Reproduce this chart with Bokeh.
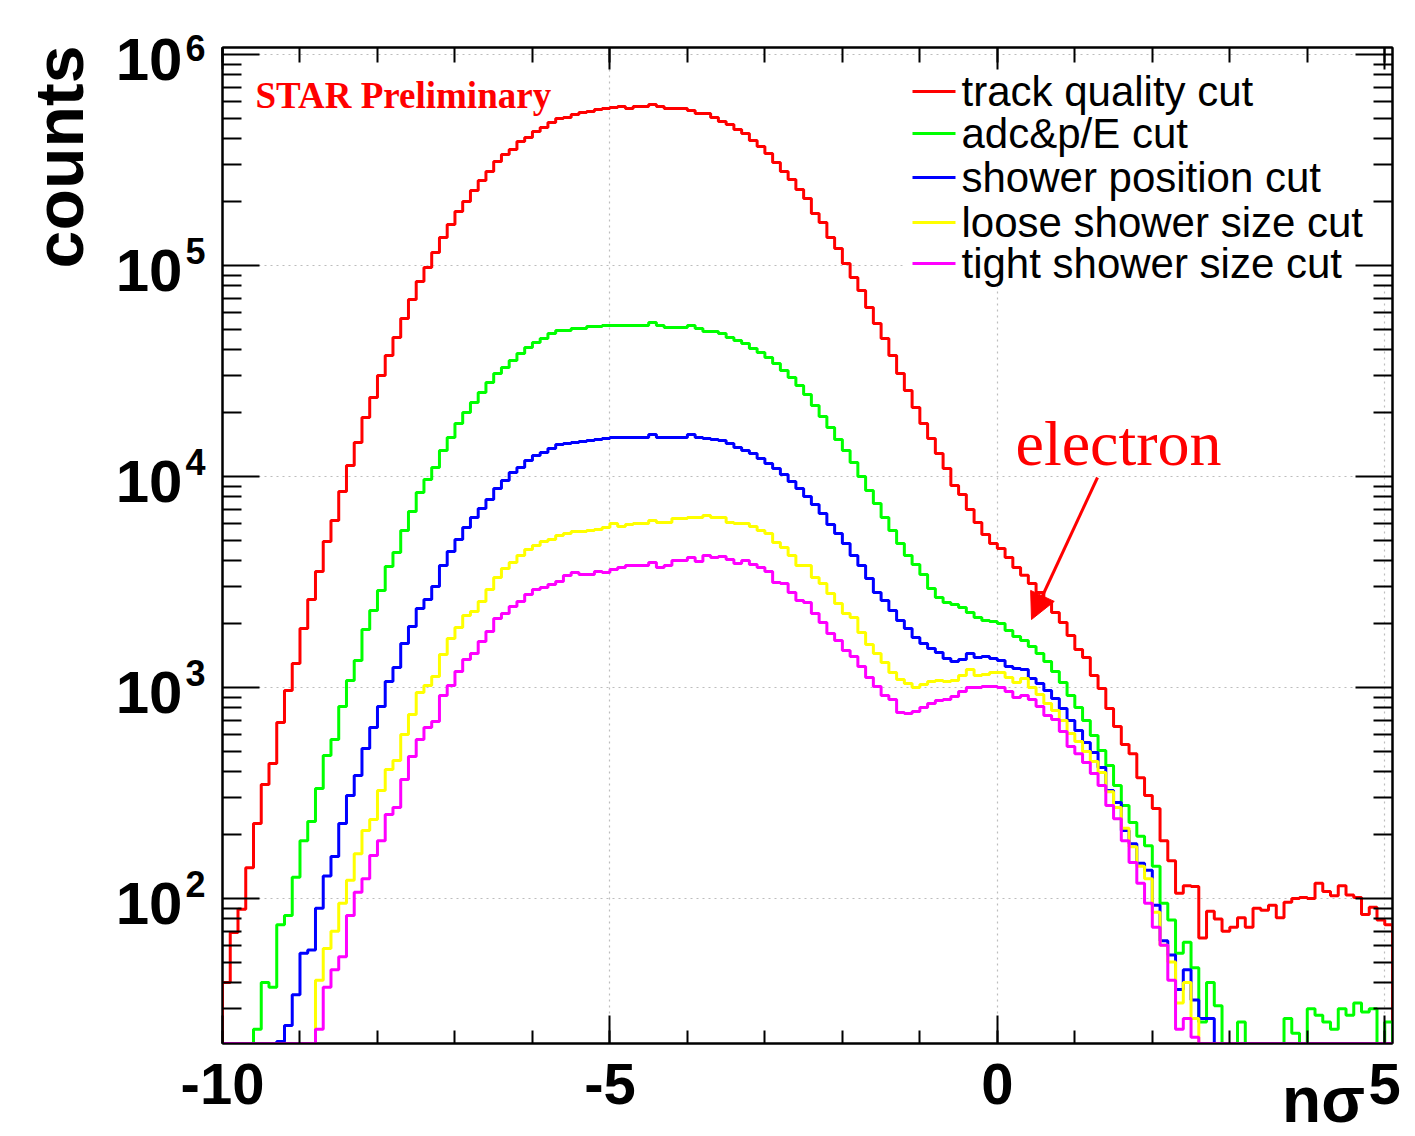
import numpy as np
from bokeh.plotting import figure
from bokeh.models import (FixedTicker, LinearAxis, LogAxis, Label, Arrow, Title,
                          NormalHead, Range1d, CustomJSTickFormatter)
from bokeh.embed import file_html
from bokeh.resources import INLINE

# ---------------- data (counts per 0.1-wide bin, from -10.0 to 5.1) ----------------
X_LO, X_HI = -10.0, 5.1
N_BINS = 151
edges = np.round(np.linspace(X_LO, X_HI, N_BINS + 1), 3)

track_quality = [
    40, 69, 89, 140, 227, 347, 436, 683, 968, 1300,
    1905, 2612, 3548, 4920, 6180, 8490, 11270, 14490, 19050, 23660,
    30130, 37420, 45600, 56100, 69000, 84000, 97900, 115300, 135800, 156400,
    180300, 201000, 226500, 252900, 278600, 311200, 335700, 354800, 387300, 404600,
    431500, 450800, 476400, 497700, 502300, 519700, 530900, 537000, 548300, 554500,
    560600, 567000, 554500, 567000, 567000, 579400, 567000, 554500, 554500, 554500,
    543000, 525000, 525000, 502300, 480900, 465600, 441500, 422600, 391000, 366400,
    339600, 307600, 278600, 255800, 229100, 207900, 176200, 159900, 135800, 120500,
    102100, 87700, 76200, 63200, 53100, 45100, 37420, 30760, 25570, 21240,
    17830, 15140, 12850, 10910, 9060, 8220, 6980, 6050, 5310, 4810,
    4560, 4130, 3700, 3400, 3110, 2820, 2530, 2270, 2030, 1763,
    1514, 1387, 1140, 989, 795, 653, 537, 486, 374, 308,
    267, 188, 151, 106, 115, 114, 65, 87, 80, 70,
    73, 81, 73, 90, 88, 93, 81, 96, 100, 101,
    100, 118, 108, 103, 115, 104, 101, 84, 91, 79,
    75]

adc_pe = [
    0, 0, 0, 0, 24, 40, 38, 75, 83, 126,
    188, 232, 332, 476, 567, 813, 1080, 1343, 1884, 2317,
    2882, 3745, 4363, 5546, 6823, 8395, 9680, 11040, 13280, 15300,
    17830, 20100, 22440, 25000, 27870, 30760, 32870, 35480, 38280, 40850,
    43150, 45080, 47640, 49200, 49200, 50270, 50270, 51400, 51400, 51970,
    51970, 51970, 51970, 51970, 51970, 53700, 51970, 50830, 50830, 50830,
    51970, 50270, 48640, 48640, 47640, 45600, 44150, 42660, 40450, 38720,
    36640, 34350, 31780, 29450, 26990, 24490, 21690, 19230, 17060, 14970,
    13280, 11650, 10000, 8590, 7450, 6390, 5546, 4810, 4227, 3828,
    3434, 2945, 2672, 2529, 2472, 2393, 2265, 2148, 2080, 2056,
    2010, 1862, 1746, 1671, 1564, 1449, 1328, 1191, 1056, 917,
    804, 698, 592, 503, 427, 343, 276, 229, 197, 178,
    142, 95, 79, 55, 62, 47, 26, 40, 31, 0,
    0, 26, 0, 0, 0, 0, 0, 27, 23, 0,
    30, 28, 26, 24, 30, 28, 32, 29, 30, 0,
    26]

shower_position = [
    0, 0, 0, 0, 0, 0, 0, 21, 25, 35,
    55, 57, 90, 128, 158, 227, 308, 383, 514, 646,
    813, 1067, 1244, 1617, 1945, 2368, 2612, 3012, 3786, 4413,
    5026, 5730, 6392, 7050, 7780, 8770, 9570, 10440, 11040, 11910,
    12590, 13000, 13580, 14190, 14330, 14490, 14650, 14810, 14960, 15130,
    15300, 15300, 15300, 15300, 15300, 15810, 15300, 15300, 15300, 15300,
    15810, 15300, 15130, 14960, 14810, 14330, 13720, 13280, 12850, 12170,
    11530, 10910, 10210, 9470, 8770, 8040, 7370, 6680, 5930, 5370,
    4810, 4227, 3786, 3286, 2820, 2583, 2317, 2080, 1905, 1726,
    1617, 1530, 1465, 1372, 1328, 1358, 1449, 1387, 1403, 1372,
    1343, 1259, 1230, 1217, 1104, 1045, 968, 887, 795, 698,
    625, 549, 492, 418, 325, 285, 210, 182, 147, 136,
    93, 63, 54, 37, 46, 33, 27, 27, 0, 0,
    0, 0, 0, 0, 0, 0, 0, 0, 0, 0,
    0, 0, 0, 0, 0, 0, 0, 0, 0, 0,
    0]

loose_shower_size = [
    0, 0, 0, 0, 0, 0, 0, 0, 0, 0,
    0, 0, 41, 58, 70, 95, 122, 163, 210, 237,
    325, 409, 451, 599, 745, 947, 1022, 1128, 1433, 1707,
    1924, 2194, 2291, 2557, 2912, 3321, 3664, 3910, 4227, 4508,
    4710, 4920, 5026, 5250, 5370, 5483, 5483, 5546, 5610, 5730,
    5985, 5796, 5925, 5985, 5985, 6185, 6053, 6053, 6322, 6322,
    6392, 6392, 6532, 6392, 6392, 6053, 5985, 5985, 5796, 5546,
    5370, 4865, 4610, 4227, 3786, 3786, 3321, 3112, 2787, 2500,
    2244, 2148, 1823, 1600, 1449, 1313, 1178, 1091, 1045, 1000,
    1033, 1067, 1080, 1067, 1080, 1140, 1217, 1140, 1153, 1178,
    1178, 1115, 1056, 1104, 1000, 927, 840, 778, 698, 605,
    555, 497, 446, 395, 321, 270, 215, 176, 142, 124,
    86, 60, 50, 32, 40, 27, 0, 0, 0, 0,
    0, 0, 0, 0, 0, 0, 0, 0, 0, 0,
    0, 0, 0, 0, 0, 0, 0, 0, 0, 0,
    0]

tight_shower_size = [
    0, 0, 0, 0, 0, 0, 0, 0, 0, 0,
    0, 0, 24, 38, 46, 53, 83, 107, 124, 160,
    188, 250, 270, 366, 471, 567, 646, 690, 917, 1022,
    1191, 1358, 1449, 1652, 1842, 2124, 2244, 2421, 2557, 2760,
    2912, 2978, 3076, 3177, 3396, 3508, 3434, 3434, 3548, 3508,
    3623, 3707, 3786, 3786, 3786, 3910, 3707, 3786, 3999, 3999,
    4130, 3955, 4227, 4130, 4180, 4043, 3873, 3999, 3828, 3707,
    3548, 3146, 3112, 2820, 2583, 2529, 2244, 2032, 1803, 1671,
    1497, 1403, 1259, 1115, 1011, 917, 877, 762, 754, 770,
    804, 840, 867, 877, 906, 957, 1000, 1000, 1011, 1011,
    1000, 957, 897, 917, 877, 813, 737, 705, 619, 525,
    486, 441, 391, 343, 276, 239, 188, 148, 118, 95,
    73, 60, 41, 24, 27, 22, 0, 0, 0, 0,
    0, 0, 0, 0, 0, 0, 0, 0, 0, 0,
    0, 0, 0, 0, 0, 0, 0, 0, 0, 0,
    0]

series_names = ["track quality cut", "adc&p/E cut", "shower position cut",
                "loose shower size cut", "tight shower size cut"]
series_counts = [track_quality, adc_pe, shower_position, loose_shower_size, tight_shower_size]
series_colors = ["#ff0000", "#00ff00", "#0000ff", "#ffff00", "#ff00ff"]

x_major = [-10, -5, 0, 5]
x_minor = list(range(-10, 6))
x_tick_labels = ["-10", "-5", "0", "5"]
y_major = [1e2, 1e3, 1e4, 1e5, 1e6]
y_exponents = ["2", "3", "4", "5", "6"]
y_minor = [m * 10.0 ** e for e in range(1, 7) for m in range(2, 10)]

# ---------------- layout ----------------
Y_LO, Y_HI = 20.55, 1.0795e6
FRAME_L, FRAME_T, FRAME_W, FRAME_H = 222, 47, 1170, 996
B_LEFT, B_TOP, B_RIGHT, B_BOTTOM = 222, 47, 20, 93
LLO, LHI = np.log10(Y_LO), np.log10(Y_HI)
DEC_PER_PX = (LHI - LLO) / FRAME_H
FONT = "Liberation Sans"


def px_x(px):
    return float(X_LO + (px - FRAME_L) * (X_HI - X_LO) / FRAME_W)


def px_y(py):
    return float(10 ** (LLO + (FRAME_T + FRAME_H - py) * DEC_PER_PX))


def shift_up(v, px):
    return float(min(v * 10 ** (px * DEC_PER_PX), Y_HI * 0.998))


p = figure(width=B_LEFT + FRAME_W + B_RIGHT, height=B_TOP + FRAME_H + B_BOTTOM,
           frame_width=FRAME_W, frame_height=FRAME_H,
           x_range=Range1d(X_LO, X_HI), y_range=Range1d(Y_LO, Y_HI),
           y_axis_type="log", output_backend="svg", toolbar_location=None,
           min_border_left=B_LEFT, min_border_top=B_TOP,
           min_border_right=B_RIGHT, min_border_bottom=B_BOTTOM)
p.background_fill_color = "white"
p.border_fill_color = "white"
p.outline_line_color = "black"
p.outline_line_width = 2

# grids
p.xgrid.ticker = FixedTicker(ticks=x_major)
p.ygrid.ticker = FixedTicker(ticks=y_major)
for g in (p.xgrid, p.ygrid):
    g.grid_line_color = "#bdbdbd"
    g.grid_line_dash = "2 4"
    g.grid_line_width = 1.2


def tick_style(ax, maj, mnr):
    ax.major_tick_in = maj
    ax.major_tick_out = 0
    ax.minor_tick_in = mnr
    ax.minor_tick_out = 0
    ax.major_tick_line_color = "black"
    ax.minor_tick_line_color = "black"
    ax.major_tick_line_width = 2
    ax.minor_tick_line_width = 2
    ax.axis_line_color = "black"
    ax.axis_line_width = 2


def hide_labels(ax):
    ax.major_label_text_font_size = "2px"
    ax.major_label_text_color = None
    ax.major_label_standoff = 0


def label_only(ax):
    ax.major_tick_in = 0
    ax.major_tick_out = 0
    ax.minor_tick_in = 0
    ax.minor_tick_out = 0
    ax.major_tick_line_color = None
    ax.minor_tick_line_color = None
    ax.axis_line_color = None


# bottom axis: ticks + numbers
xb = p.xaxis[0]
xb.ticker = FixedTicker(ticks=x_major, minor_ticks=x_minor)
tick_style(xb, 28, 13)
xb.major_label_overrides = {v: t for v, t in zip(x_major, x_tick_labels)}
xb.major_label_text_font = FONT
xb.major_label_text_font_style = "bold"
xb.major_label_text_font_size = "58px"
xb.major_label_text_color = "black"
xb.major_label_standoff = 20

# x title "nσ" at the lower right
xn = LinearAxis(ticker=FixedTicker(ticks=[px_x(1323)], minor_ticks=[]),
                formatter=CustomJSTickFormatter(code="return 'n\u03c3'"))
label_only(xn)
xn.major_label_text_font = FONT
xn.major_label_text_font_style = "bold"
xn.major_label_text_font_size = "64px"
xn.major_label_text_color = "black"
xn.major_label_standoff = -43
p.add_layout(xn, "below")

# left: ticks only (innermost), then exponents, then "10", then the "counts" title
yl = p.yaxis[0]
yl.ticker = FixedTicker(ticks=y_major, minor_ticks=y_minor)
tick_style(yl, 37, 19)
hide_labels(yl)

ye = LogAxis(ticker=FixedTicker(ticks=[shift_up(v, 15) for v in y_major], minor_ticks=[]),
             formatter=CustomJSTickFormatter(args=dict(labs=y_exponents),
                                             code="return labs[Math.round(Math.log10(tick)) - 2]"))
label_only(ye)
ye.major_label_text_font = FONT
ye.major_label_text_font_style = "bold"
ye.major_label_text_font_size = "36px"
ye.major_label_text_color = "black"
ye.major_label_standoff = 17
p.add_layout(ye, "left")

yt = LogAxis(ticker=FixedTicker(ticks=[shift_up(v, -5) for v in y_major], minor_ticks=[]),
             formatter=CustomJSTickFormatter(code="return '10'"))
label_only(yt)
yt.major_label_text_font = FONT
yt.major_label_text_font_style = "bold"
yt.major_label_text_font_size = "60px"
yt.major_label_text_color = "black"
yt.major_label_standoff = 0
p.add_layout(yt, "left")

p.add_layout(Title(text="counts", align="right", vertical_align="bottom", standoff=32,
                   offset=-2, text_font=FONT, text_font_style="bold",
                   text_font_size="68px", text_color="black"), "left")

# mirrored axes (top / right) with ticks only
xt = LinearAxis(ticker=FixedTicker(ticks=x_major, minor_ticks=x_minor))
tick_style(xt, 22, 15)
hide_labels(xt)
p.add_layout(xt, "above")
yr = LogAxis(ticker=FixedTicker(ticks=y_major, minor_ticks=y_minor))
tick_style(yr, 37, 19)
hide_labels(yr)
p.add_layout(yr, "right")

# histograms (zero bins drawn on the lower frame edge, as ROOT does on a log scale)
for counts, color in zip(series_counts, series_colors):
    c = np.asarray(counts, dtype=float)
    c = np.where(c > 0, c, Y_LO)
    xs = np.concatenate([[edges[0]], edges, [edges[-1]]])
    ys = np.concatenate([[Y_LO], c, [c[-1]], [Y_LO]])
    p.step(xs, ys, mode="after", line_color=color, line_width=3)

# legend (white box hiding the grid, short line + label)
p.quad(left=[px_x(905)], right=[px_x(1386)], top=[px_y(66)], bottom=[px_y(286)],
       fill_color="white", line_color=None)
leg_rows = [91, 133, 177, 222, 263]
for name, color, cy in zip(series_names, series_colors, leg_rows):
    p.line([px_x(912), px_x(955)], [px_y(cy), px_y(cy)], line_color=color, line_width=3)
    p.add_layout(Label(x=px_x(961), y=px_y(cy), text=name, text_baseline="middle",
                       text_align="left", text_font=FONT,
                       text_font_size="42px", text_color="black"))

# annotations (bottom-anchored; glyph baseline sits ~0.2 em above the anchor)
p.add_layout(Label(x=px_x(255), y=px_y(115), text="STAR Preliminary",
                   text_baseline="bottom", text_align="left",
                   text_font="Liberation Serif", text_font_style="bold",
                   text_font_size="37px", text_color="#ff0000"))
p.add_layout(Label(x=px_x(1015), y=px_y(478), text="electron",
                   text_baseline="bottom", text_align="left",
                   text_font="Liberation Serif", text_font_size="64px",
                   text_color="#ff0000"))
p.add_layout(Arrow(end=NormalHead(size=26, fill_color="#ff0000", line_color="#ff0000"),
                   x_start=px_x(1097), y_start=px_y(477),
                   x_end=px_x(1031), y_end=px_y(619),
                   line_color="#ff0000", line_width=3))

open("out.html", "w").write(file_html(p, INLINE))
